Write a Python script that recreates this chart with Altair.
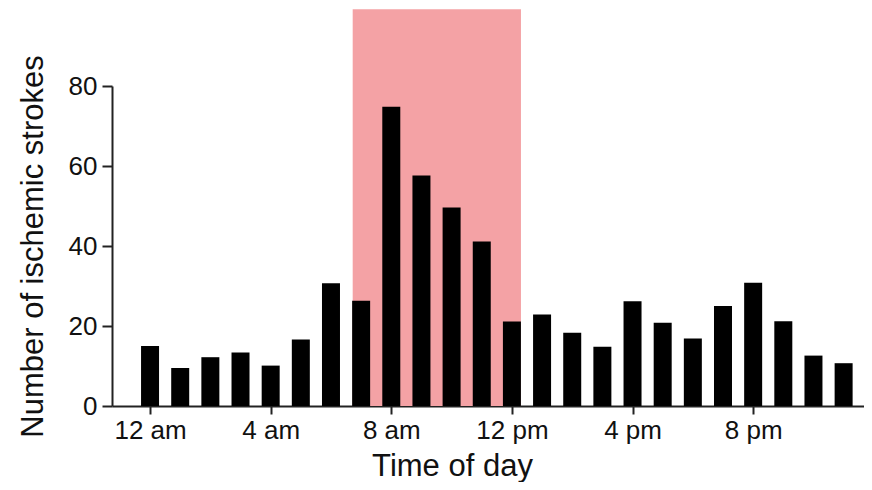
import altair as alt
import pandas as pd

hours = list(range(24))
strokes = [15.0, 9.5, 12.2, 13.4, 10.1, 16.6, 30.7, 26.3, 74.8, 57.6, 49.6, 41.1,
           21.1, 22.9, 18.3, 14.8, 26.2, 20.8, 16.9, 25.0, 30.8, 21.2, 12.6, 10.7]

tick_hours = [0, 4, 8, 12, 16, 20]
tick_labels = ["12 am", "4 am", "8 am", "12 pm", "4 pm", "8 pm"]

shade_start = [6.72]
shade_end = [12.30]
shade_top = [99.2]

df = pd.DataFrame({"hour": hours, "strokes": strokes})
shade = pd.DataFrame({"x": shade_start, "x2": shade_end, "y": [0], "y2": shade_top})

label_map = "{" + ",".join(f"'{h}':'{l}'" for h, l in zip(tick_hours, tick_labels)) + "}"

FONT = "Liberation Sans"
x_scale = alt.Scale(domain=[-1.096, 23.51], nice=False, zero=False)
y_scale = alt.Scale(domain=[0, 80], nice=False)

band = alt.Chart(shade).mark_rect(color="#F4A2A5", clip=False).encode(
    x=alt.X("x:Q", scale=x_scale),
    x2="x2:Q",
    y=alt.Y("y:Q", scale=y_scale),
    y2="y2:Q",
)

bars = alt.Chart(df).mark_bar(color="black", size=18).encode(
    x=alt.X(
        "hour:Q",
        scale=x_scale,
        axis=alt.Axis(
            title="Time of day",
            values=tick_hours,
            labelExpr=f"{label_map}[''+datum.value]",
            tickSize=8,
            labelPadding=3,
            labelFontSize=26,
            titleFontSize=31,
            titleFontWeight="normal",
            titleX=340,
            titleY=69,
            titleBaseline="alphabetic",
            titleAlign="center",
            grid=False,
        ),
    ),
    y=alt.Y(
        "strokes:Q",
        scale=y_scale,
        axis=alt.Axis(
            title="Number of ischemic strokes",
            values=[0, 10, 20, 30, 40, 50, 60, 70, 80],
            labelExpr="datum.value % 20 == 0 ? datum.label : ''",
            tickSize=10,
            labelPadding=5,
            labelFontSize=26,
            titleFontSize=31,
            titleFontWeight="normal",
            titleX=-70,
            titleY=160,
            titleBaseline="alphabetic",
            titleAlign="center",
            titleAngle=270,
            grid=False,
        ),
    ),
)

chart = (
    alt.layer(band, bars)
    .properties(
        width=752,
        height=320,
        autosize=alt.AutoSizeParams(type="none"),
        padding={"left": 104, "top": 78, "right": 0, "bottom": 76},
    )
    .configure_view(stroke=None)
    .configure_axis(
        domainColor="#222222",
        domainWidth=2,
        tickColor="#222222",
        tickWidth=2,
        labelColor="#111111",
        titleColor="#111111",
        labelFont=FONT,
        titleFont=FONT,
    )
)

chart.save("out.html", embed_options={"renderer": "svg", "actions": False})
